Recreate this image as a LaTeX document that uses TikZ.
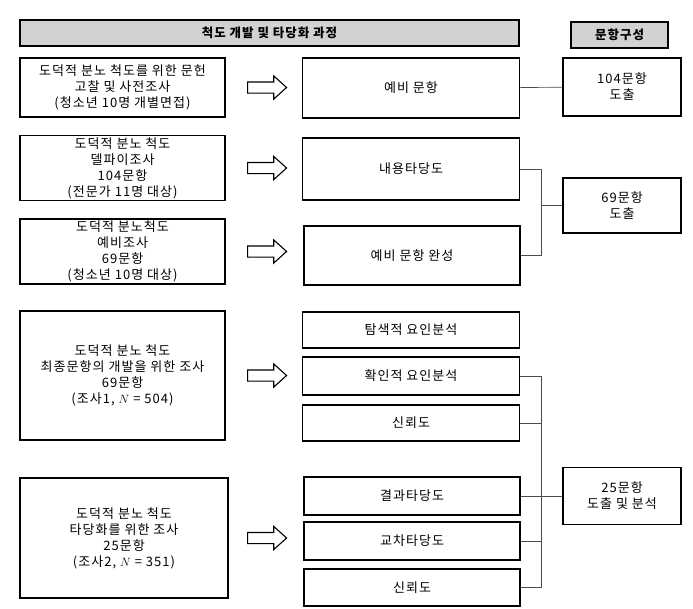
\documentclass[tikz,border=0pt]{standalone}
\usepackage{fontspec}
\setmainfont{Noto Sans CJK KR}[LetterSpace=8]
\usetikzlibrary{shapes.arrows}

\begin{document}
\begin{tikzpicture}[x=1pt, y=-1pt,
			rec/.style  = {draw, rectangle, line width=1.5pt, inner sep=2pt, align=center,
				font=\fontsize{13}{16}\selectfont},
			hdr/.style  = {rec, fill=gray!35, line width=1.8pt, font=\fontsize{12.5}{15}\selectfont\bfseries},
			src/.style  = {rec, minimum width=205pt},
			task/.style = {rec, minimum width=217pt},
			res/.style  = {rec, minimum width=118pt},
			big arrow/.style = {draw, single arrow, line width=1.1pt, fill=white, inner sep=0pt,
				text height=5pt, text depth=5pt, minimum height=39pt,
				single arrow head extend=6pt, single arrow tip angle=84},
			link/.style = {gray!60!black, line width=0.7pt}]
			
			\useasboundingbox (0,0) rectangle (693,608);
			
			% headings
			\node[hdr, minimum width=499pt, minimum height=26pt] (title) at (269.5,33) {척도 개발 및 타당화 과정};
			\node[hdr, minimum width=97pt, minimum height=26pt] (items) at (619.5,35) {문항구성};
			
			% left column, the surveys
			\node[src, minimum height=59pt] (s1) at (122.5,87.5)
			{도덕적 분노 척도를 위한 문헌\\고찰 및 사전조사\\(청소년 10명 개별면접)};
			\node[src, minimum height=60pt] (s2) at (122.5,168)
			{도덕적 분노 척도\\델파이조사\\104문항\\(전문가 11명 대상)};
			\node[src, minimum height=63pt] (s3) at (122.5,251.5)
			{도덕적 분노척도\\예비조사\\69문항\\(청소년 10명 대상)};
			\node[src, minimum height=129pt] (s4) at (122.5,375.5)
			{도덕적 분노 척도\\최종문항의 개발을 위한 조사\\69문항\\(조사1, $N$ = 504)};
			\node[src, minimum width=208pt, minimum height=120pt] (s5) at (124,538)
			{도덕적 분노 척도\\타당화를 위한 조사\\25문항\\(조사2, $N$ = 351)};
			
			% hollow arrows
			\foreach \i in {1,...,5}
			\node[big arrow] (a\i) at (264,0 |- s\i) {};
			
			% middle column, the steps
			\node[task, minimum height=60pt] (t1) at (411,88) {예비 문항};
			\node[task, minimum height=62pt] (t2) at (411,169) {내용타당도};
			\node[task, minimum width=216pt, minimum height=59pt] (t3) at (412,255.5) {예비 문항 완성};
			\node[task, minimum height=36pt] (t41) at (411,330) {탐색적 요인분석};
			\node[task, minimum height=38pt] (t42) at (411,376) {확인적 요인분석};
			\node[task, minimum height=36pt] (t43) at (411,423) {신뢰도};
			\node[task, minimum width=216pt, minimum height=38pt] (t51) at (412,496) {결과타당도};
			\node[task, minimum width=216pt, minimum height=38pt] (t52) at (412,541) {교차타당도};
			\node[task, minimum width=216pt, minimum height=37pt] (t53) at (412,587.5) {신뢰도};
			
			% right column, the item counts
			\node[res, minimum height=58pt] (r1) at (622,87) {104문항\\도출};
			\node[res, minimum height=55pt] (r2) at (622,205.5) {69문항\\도출};
			\node[res, minimum height=57pt] (r3) at (622,496) {25문항\\도출 및 분석};
			
			% connecting lines
			\coordinate (bus) at (541,0);
			\draw[link] (t1) -- (r1);
			\draw[link] (t2.east) -- (t2.east -| bus) -- (t3.east -| bus) -- (t3.east);
			\draw[link] (r2.west -| bus) -- (r2.west);
			\draw[link] (t42.east) -- (t42.east -| bus) -- (t53.east -| bus) -- (t53.east);
			\foreach \n in {t43,t51,t52}
			\draw[link] (\n.east) -- (\n.east -| bus);
			\draw[link] (r3.west -| bus) -- (r3.west);
		\end{tikzpicture}
\end{document}
